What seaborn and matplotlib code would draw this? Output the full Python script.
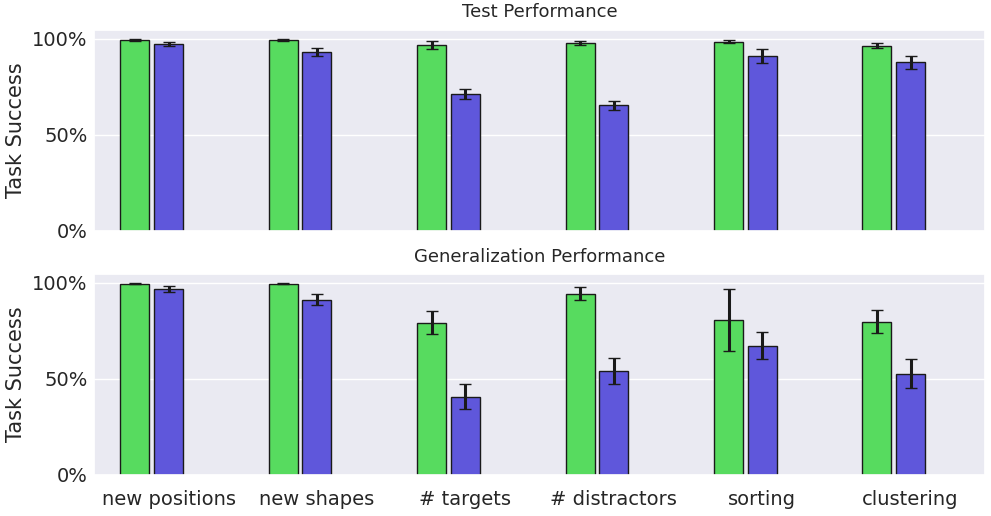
import pandas as pd
import seaborn as sns
import matplotlib.pyplot as plt
from matplotlib.ticker import PercentFormatter

# Values (fractions of 1)
categories = ["new positions", "new shapes", "# targets", "# distractors", "sorting", "clustering"]
methods = ["ours", "baseline", "unused"]

test_ours = [0.993, 0.993, 0.967, 0.977, 0.983, 0.962]
test_ours_err = [0.003, 0.003, 0.019, 0.010, 0.008, 0.013]
test_base = [0.972, 0.931, 0.712, 0.654, 0.910, 0.878]
test_base_err = [0.0095, 0.020, 0.028, 0.0235, 0.0365, 0.034]

gen_ours = [0.995, 0.995, 0.792, 0.943, 0.808, 0.798]
gen_ours_err = [0.002, 0.002, 0.060, 0.034, 0.161, 0.060]
gen_base = [0.969, 0.912, 0.408, 0.543, 0.673, 0.528]
gen_base_err = [0.0155, 0.0285, 0.067, 0.0675, 0.070, 0.075]

hls = sns.color_palette("hls", 3)
palette = {"ours": hls[1], "baseline": hls[2], "unused": hls[0]}


def plot_panel(ax, ours, ours_err, base, base_err, title):
    df = pd.DataFrame({
        "task": categories * 2,
        "method": [methods[0]] * len(categories) + [methods[1]] * len(categories),
        "success": ours + base,
    })
    sns.barplot(data=df, x="task", y="success", hue="method", hue_order=methods,
                order=categories, palette=palette, saturation=1, width=0.68, gap=0.14,
                errorbar=None, edgecolor=".1", linewidth=1, legend=False, ax=ax)
    # error bars on top of each bar
    for container, err in zip(ax.containers, [ours_err, base_err]):
        xs = [bar.get_x() + bar.get_width() / 2 for bar in container]
        ys = [bar.get_height() for bar in container]
        ax.errorbar(xs, ys, yerr=err, fmt="none", ecolor=".1",
                    elinewidth=2.2, capsize=4, capthick=1)
    ax.set_xlim(-0.5, len(categories) - 0.5)
    ax.set_title(title, fontsize=13, pad=9)
    ax.set_ylim(0, 1.045)
    ax.set_yticks([0, 0.5, 1.0])
    ax.yaxis.set_major_formatter(PercentFormatter(1.0, decimals=0))
    ax.set_ylabel("Task Success", fontsize=15, labelpad=4)
    ax.set_xlabel("")
    ax.tick_params(axis="both", labelsize=14, length=0)
    ax.tick_params(axis="y", pad=5)
    ax.tick_params(axis="x", pad=10.5)


sns.set_theme(style="darkgrid")
plt.rcParams['font.family'] = ['DejaVu Sans']

fig, (ax1, ax2) = plt.subplots(2, 1, figsize=(9.91, 5.16), dpi=100, sharex=True)
plt.subplots_adjust(left=0.0952, right=0.9937, top=0.9419, bottom=0.0795, hspace=0.216)

plot_panel(ax1, test_ours, test_ours_err, test_base, test_base_err, "Test Performance")
plot_panel(ax2, gen_ours, gen_ours_err, gen_base, gen_base_err, "Generalization Performance")
ax1.tick_params(axis="x", labelbottom=False)

plt.savefig("out.png", dpi=100)
